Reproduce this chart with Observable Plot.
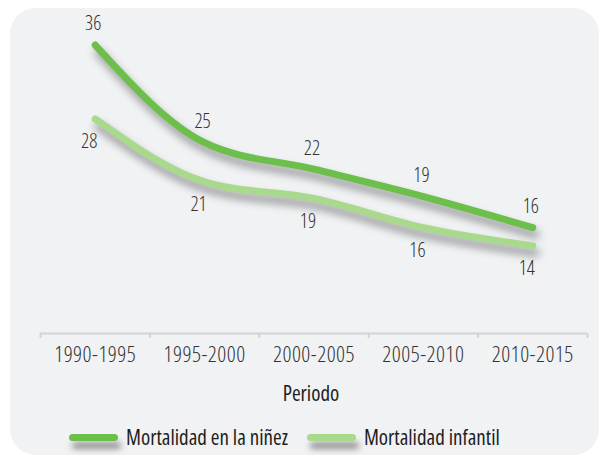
<!DOCTYPE html>
<html>
<head>
<meta charset="utf-8">
<script src="https://cdn.jsdelivr.net/npm/d3@7"></script>
<script src="https://cdn.jsdelivr.net/npm/@observablehq/plot@0.6"></script>
<style>
  html, body { margin: 0; padding: 0; background: #ffffff; }
  body { width: 602px; height: 458px; position: relative; overflow: hidden;
         font-family: "Open Sans", sans-serif; font-stretch: 75%; }
  #panel { position: absolute; left: 10px; top: 8px; width: 589px; height: 447px;
           border-radius: 26px; background: #f1f2f4; }
  #chart { position: absolute; left: 0; top: 0; }
  #chart svg { font-stretch: 75%; }
  #chart g[aria-label="x-axis tick label"] text { letter-spacing: 0.5px; }
  #chart g[aria-label="line"] { filter: drop-shadow(3px 7px 4px rgba(0,0,0,0.4)); }
  #legend { position: absolute; left: 69px; top: 423px; display: flex; align-items: center;
            font-size: 21px; color: #1e1e1e; font-weight: 400; }
  .item { display: flex; align-items: center; margin-right: 19px; }
  .sw { width: 49px; height: 7px; border-radius: 4px; margin-right: 8px;
        box-shadow: 3px 8px 6px rgba(0,0,0,0.4); }
</style>
</head>
<body>
<div id="panel"></div>
<div id="chart"></div>
<div id="legend"></div>
<script>
const periods = ["1990-1995", "1995-2000", "2000-2005", "2005-2010", "2010-2015"];
const ninez = [36, 25.3, 22.4, 19.4, 16];
const infantil = [27.9, 21, 19.2, 16, 14];
const seriesNames = ["Mortalidad en la niñez", "Mortalidad infantil"];
const seriesColors = ["#6cbf4a", "#a9d98c"];
const xLabel = "Periodo";

const rows = [];
periods.forEach((p, i) => {
  rows.push({i, period: p, value: ninez[i], serie: seriesNames[0]});
  rows.push({i, period: p, value: infantil[i], serie: seriesNames[1]});
});
const boundaries = d3.range(periods.length + 1).map(i => i - 0.5);
const yMin = 4.4, yMax = 40;
const fmt = d3.format(".0f");

const chart = Plot.plot({
  width: 602,
  height: 410,
  marginTop: 8,
  marginBottom: 77,
  marginLeft: 40,
  marginRight: 15,
  style: {background: "transparent", fontFamily: "\"Open Sans\", sans-serif", fontSize: "20px", color: "#3a3a3a", fontStretch: "75%"},
  x: {domain: [-0.5, periods.length - 0.5]},
  y: {domain: [yMin, yMax], axis: null},
  color: {domain: seriesNames, range: seriesColors},
  marks: [
    Plot.ruleY([yMin], {stroke: "#d3d4d6", strokeWidth: 2}),
    Plot.axisX({ticks: boundaries, tickFormat: () => "", tickSize: 5, color: "#d3d4d6", strokeWidth: 2, label: null}),
    Plot.axisX({ticks: d3.range(periods.length), tickFormat: i => periods[i], tickSize: 0, tickPadding: 13, fontSize: 22, fontWeight: 300, color: "#333333", label: null}),
    Plot.text([xLabel], {frameAnchor: "bottom", dy: 67, dx: -3, fontSize: 21, fontWeight: 400, fill: "#1e1e1e"}),
    Plot.line(rows, {x: "i", y: "value", z: "serie", stroke: "serie", strokeWidth: 7, curve: "monotone-x", strokeLinecap: "round", strokeLinejoin: "round"}),
    Plot.text(rows.filter(d => d.serie === seriesNames[0]), {x: "i", y: "value", text: d => fmt(d.value), dy: -21, dx: -2, fontSize: 20, fontWeight: 300, fill: "#333333"}),
    Plot.text(rows.filter(d => d.serie === seriesNames[1]), {x: "i", y: "value", text: d => fmt(d.value), dy: 23, dx: -6, fontSize: 20, fontWeight: 300, fill: "#333333"})
  ]
});
document.getElementById("chart").appendChild(chart);

const legend = document.getElementById("legend");
seriesNames.forEach((name, k) => {
  const item = document.createElement("div");
  item.className = "item";
  const sw = document.createElement("div");
  sw.className = "sw";
  sw.style.background = seriesColors[k];
  const label = document.createElement("span");
  label.textContent = name;
  item.appendChild(sw);
  item.appendChild(label);
  legend.appendChild(item);
});
</script>
</body>
</html>
